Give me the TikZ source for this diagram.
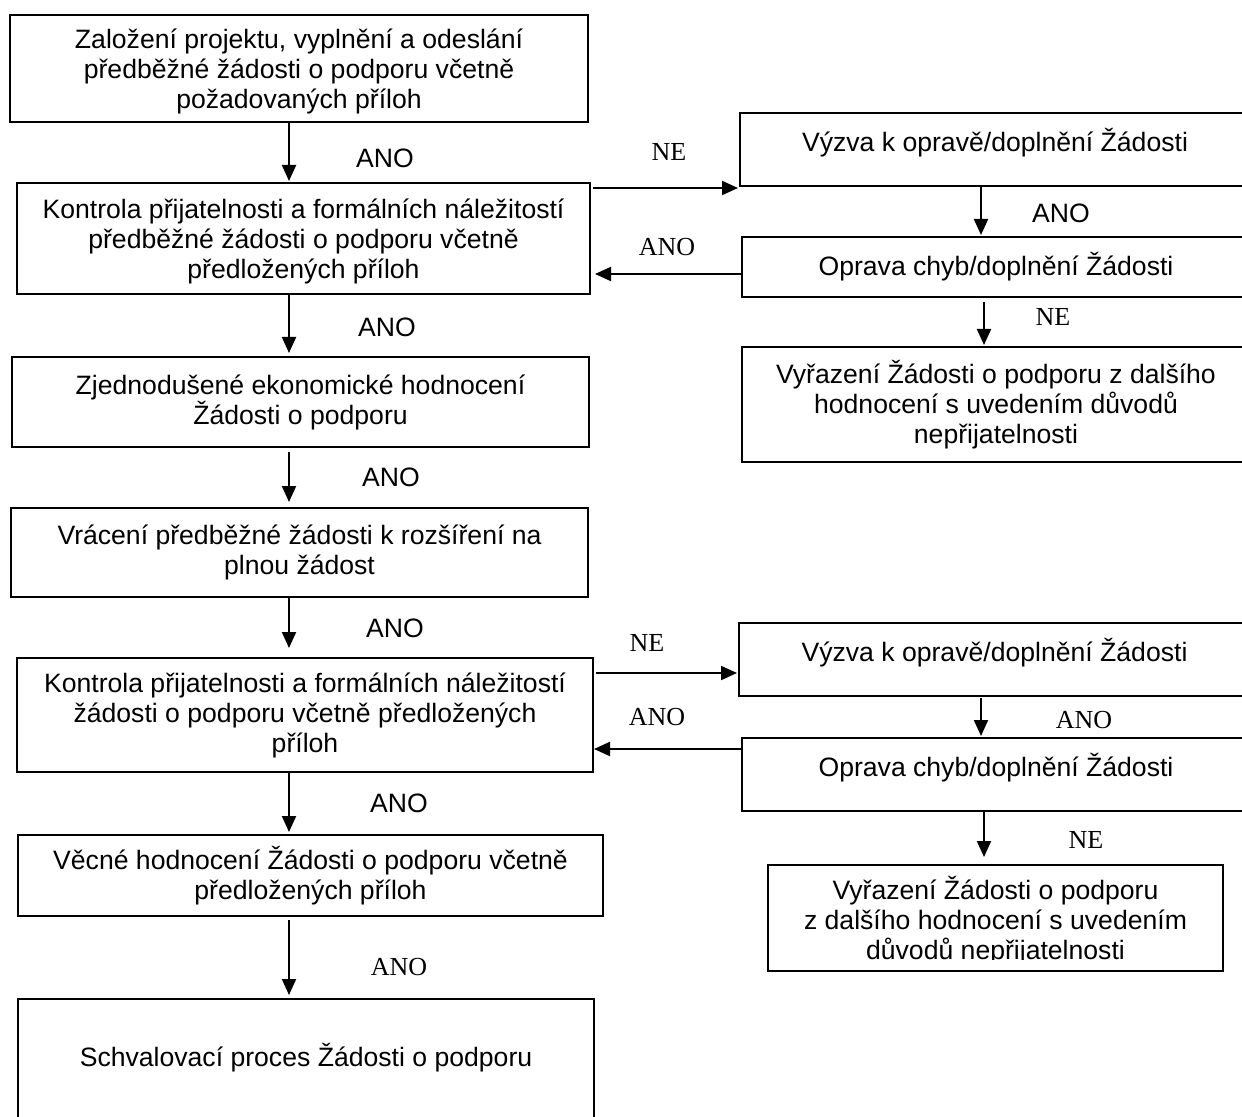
\documentclass[tikz,border=0pt]{standalone}
\usepackage{fontspec}
\setmainfont{Liberation Sans}
\newfontfamily\timesfont{Liberation Serif}
\usetikzlibrary{arrows.meta}

\tikzset{
  box/.style={draw, line width=1pt, anchor=north west, inner sep=0pt, outer sep=0pt,
    align=center, font=\fontsize{13.3}{15}\selectfont},
  textdp/.style={text depth=#1},
  arr/.style={line width=1pt, -{Triangle[length=8pt,width=7pt]}, shorten >=1pt},
  lbl/.style={font=\fontsize{13.3}{15}\selectfont},
  tlbl/.style={font=\timesfont\fontsize{13}{15}\selectfont},
}

\begin{document}
\begin{tikzpicture}[x=0.5pt, y=-0.5pt]
  \path[use as bounding box, clip] (0,0) rectangle (1242,1117);

  % left column
  \node (zal) at (10,15)    [box, textdp=-3.5pt, minimum width=289pt, minimum height=53.5pt] {Založení projektu, vyplnění a odeslání\\předběžné žádosti o podporu včetně\\požadovaných příloh};
  \node (kon1) at (17,183)  [box, textdp=-3.5pt, minimum width=286.5pt, minimum height=55.5pt] {Kontrola přijatelnosti a formálních náležitostí\\předběžné žádosti o podporu včetně\\předložených příloh};
  \node (zje) at (12,357)   [box, minimum width=288.5pt, minimum height=45pt] {Zjednodušené ekonomické hodnocení\\Žádosti o podporu};
  \node (vra) at (11,508)   [box, minimum width=288.5pt, minimum height=44.5pt] {Vrácení předběžné žádosti k rozšíření na\\plnou žádost};
  \node (kon2) at (17,658)  [box, minimum width=288pt, minimum height=57pt] {Kontrola přijatelnosti a formálních náležitostí\\žádosti o podporu včetně předložených\\příloh};
  \node (vec) at (18,835)   [box, minimum width=292.5pt, minimum height=40.5pt] {Věcné hodnocení Žádosti o podporu včetně\\předložených příloh};
  \node (sch) at (18,999)   [box, textdp=5pt, minimum width=288pt, minimum height=61pt] {Schvalovací proces Žádosti o podporu};

  % right column
  \node (vyz1) at (740,113) [box, textdp=10pt, minimum width=255pt, minimum height=36.5pt] {Výzva k opravě/doplnění Žádosti};
  \node (opr1) at (742,237) [box, minimum width=254pt, minimum height=30pt] {Oprava chyb/doplnění Žádosti};
  \node (vyr1) at (742,347) [box, minimum width=254pt, minimum height=57.5pt] {Vyřazení Žádosti o podporu z dalšího\\hodnocení s uvedením důvodů\\nepřijatelnosti};
  \node (vyz2) at (739,623) [box, textdp=10pt, minimum width=255.5pt, minimum height=36.5pt] {Výzva k opravě/doplnění Žádosti};
  \node (opr2) at (742,738) [box, textdp=10pt, minimum width=254pt, minimum height=36.5pt] {Oprava chyb/doplnění Žádosti};
  % last line of this one is cut at its baseline
  \begin{scope}
    \clip (700,800) rectangle (1242,959);
    \node (vyr2) at (768,865) [box, textdp=-1.5pt, minimum width=227.5pt, minimum height=53pt] {Vyřazení Žádosti o podporu\\z dalšího hodnocení s uvedením\\důvodů nepřijatelnosti};
  \end{scope}
  \draw (vyr2.north west) rectangle (vyr2.south east) [line width=1pt];

  % where the connectors run
  \coordinate (lx) at (289,0);
  \coordinate (rxa) at (981,0);
  \coordinate (rxb) at (984,0);
  \coordinate (ne1) at (0,188);
  \coordinate (ano1) at (0,274);
  \coordinate (ne2) at (0,673);
  \coordinate (ano2) at (0,749);

  \draw (zal.south -| lx) -- (kon1.north -| lx) [arr];
  \draw (kon1.south -| lx) -- (zje.north -| lx) [arr, shorten >=2pt];
  \draw ([yshift=-2.5pt]zje.south -| lx) -- (vra.north -| lx) [arr, shorten >=3pt];
  \draw (vra.south -| lx) -- (kon2.north -| lx) [arr, shorten >=5pt];
  \draw (kon2.south -| lx) -- (vec.north -| lx) [arr, shorten >=1.5pt];
  \draw ([yshift=-2pt]vec.south -| lx) -- (sch.north -| lx) [arr, shorten >=2pt];

  \draw ([xshift=1.5pt]kon1.east |- ne1) -- (vyz1.west |- ne1) [arr];
  \draw (opr1.west |- ano1) -- ([xshift=2.5pt]kon1.east |- ano1) [arr, shorten >=0pt];
  \draw ([xshift=1.5pt]kon2.east |- ne2) -- (vyz2.west |- ne2) [arr];
  \draw (opr2.west |- ano2) -- ([xshift=0.5pt]kon2.east |- ano2) [arr, shorten >=0pt];

  \draw (vyz1.south -| rxa) -- (opr1.north -| rxa) [arr];
  \draw ([yshift=-2.5pt]opr1.south -| rxb) -- (vyr1.north -| rxb) [arr];
  \draw ([yshift=-1pt]vyz2.south -| rxa) -- (opr2.north -| rxa) [arr];
  \draw (opr2.south -| rxb) -- (vyr2.north -| rxb) [arr, shorten >=4pt];

  % labels
  \node (a1) at (385,158)  [lbl] {ANO};
  \node (a2) at (387,327)  [lbl] {ANO};
  \node (a3) at (391,477)  [lbl] {ANO};
  \node (a4) at (395,628)  [lbl] {ANO};
  \node (a5) at (399,803)  [lbl] {ANO};
  \node (a6) at (399,967)  [tlbl] {ANO};
  \node (ra1) at (1061,213) [lbl] {ANO};
  \node (rn1) at (1053,317) [tlbl] {NE};
  \node (ra2) at (1084,720) [tlbl] {ANO};
  \node (rn2) at (1086,840) [tlbl] {NE};
  \node (hn1) at (669,152) [tlbl] {NE};
  \node (ha1) at (667,247) [tlbl] {ANO};
  \node (hn2) at (647,643) [tlbl] {NE};
  \node (ha2) at (657,717) [tlbl] {ANO};
\end{tikzpicture}
\end{document}
